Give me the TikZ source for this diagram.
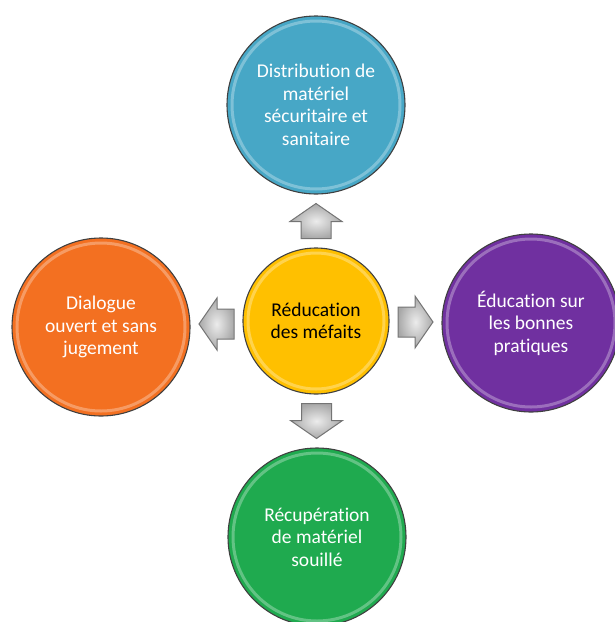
\documentclass[tikz,border=0pt]{standalone}
\usepackage{fontspec}
\setmainfont{Carlito}[Ligatures=NoCommon]
\usetikzlibrary{calc}
\definecolor{cblue}{HTML}{47A7C6}
\definecolor{corange}{HTML}{F37021}
\definecolor{cpurple}{HTML}{7030A0}
\definecolor{cgreen}{HTML}{1FAA4F}
\definecolor{cyellow}{HTML}{FFC000}
\definecolor{arrowfill}{HTML}{A8A8A8}
\definecolor{arrowline}{HTML}{747474}
\tikzset{
  bubble/.style={circle, draw=black!75, line width=1.1pt, inner sep=0pt,
    minimum size=178pt, align=center, text=white,
    font=\fontsize{19.5}{22.5}\selectfont},
  hub/.style={bubble, minimum size=146pt, text=black},
  gloss/.style={white, opacity=0.3, line width=3pt},
  blockarrow/.pic={
    \path[draw=arrowline, line width=1pt, inner color=gray!15, outer color=arrowfill]
      (-17.5pt,-15pt) -- (-0.5pt,-15pt) -- (-0.5pt,-26pt) -- (17.5pt,0pt)
      -- (-0.5pt,26pt) -- (-0.5pt,15pt) -- (-17.5pt,15pt) -- cycle;
  }
}
\begin{document}
\begin{tikzpicture}[x=1pt,y=-1pt]
\useasboundingbox (0,0) rectangle (615,622);
\node[hub, fill=cyellow] (c) at (316,321) {Réducation\\des méfaits};
\node[bubble, fill=cblue] (t) at (316,105) {Distribution de\\matériel\\sécuritaire et\\sanitaire};
\node[bubble, fill=corange] (l) at (101,327) {Dialogue\\ouvert et sans\\jugement};
\node[bubble, fill=cpurple] (r) at (531,323) {Éducation sur\\les bonnes\\pratiques};
\node[bubble, fill=cgreen] (b) at (317,537) {Récupération\\de matériel\\souillé};
% glossy inner rings
\draw[gloss] (c.center) circle (68);
\foreach \n in {t,l,r,b} {\draw[gloss] (\n.center) circle (84);}
% block arrows between hub and outer bubbles
\pic[rotate=90] at ($(c.north)!0.5!(t.south)$) {blockarrow};
\pic[rotate=180] at ($(c.west)!0.5!(l.east)$) {blockarrow};
\pic[rotate=0] at ($(c.east)!0.5!(r.west)$) {blockarrow};
\pic[rotate=-90] at ($(c.south)!0.5!(b.north)$) {blockarrow};
\end{tikzpicture}
\end{document}
